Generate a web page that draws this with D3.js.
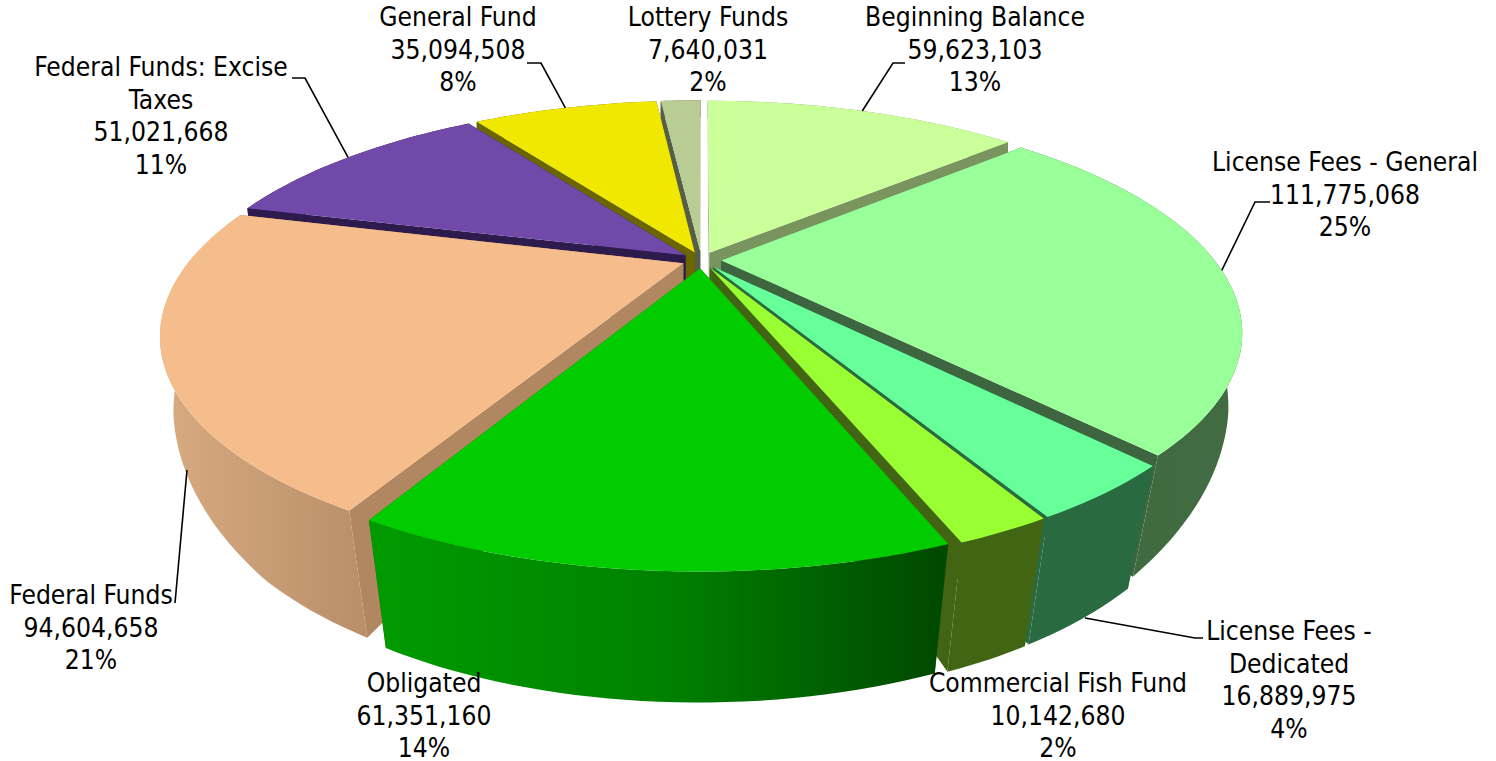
<!DOCTYPE html>
<html lang="en">
<head>
<meta charset="UTF-8">
<title>Revenue sources</title>
<script src="https://d3js.org/d3.v7.min.js"></script>
<style>
  html, body { margin: 0; padding: 0; background: #fff; overflow: hidden; }
  text { font-family: "DejaVu Sans Condensed", "DejaVu Sans", sans-serif; font-size: 26.2px; fill: #000; }
</style>
</head>
<body>
<div id="chart"></div>
<script>
// values, clockwise from 12 o'clock
const categories = ["Beginning Balance", "License Fees - General", "License Fees - Dedicated", "Commercial Fish Fund",
  "Obligated", "Federal Funds", "Federal Funds: Excise Taxes", "General Fund", "Lottery Funds"];
const amounts = [59623103, 111775068, 16889975, 10142680, 61351160, 94604658, 51021668, 35094508, 7640031];
const percents = ["13%", "25%", "4%", "2%", "14%", "21%", "11%", "8%", "2%"];

// label text broken the way the chart wraps it
const labelLines = [["Beginning Balance"], ["License Fees - General"], ["License Fees -", "Dedicated"], ["Commercial Fish Fund"],
  ["Obligated"], ["Federal Funds"], ["Federal Funds: Excise", "Taxes"], ["General Fund"], ["Lottery Funds"]];

const topColors = ["#caff99", "#99ff99", "#66ff99", "#99ff33", "#00cc00", "#f6bd8c", "#7149a9", "#f0e800", "#b9cc93"];
const cutColors = ["#7a9460", "#3d653f", "#2a6a40", "#426514", "#426514", "#b08761", "#2d1b4d", "#6a6600", "#555e47"];
// wall shading, [offset, colour], runs left to right across each wall
const wallStops = [
  [[0, "#7a9460"], [1, "#7a9460"]],
  [[0, "#3d6b3f"], [1, "#426b42"]],
  [[0, "#2a6a40"], [1, "#2a6a40"]],
  [[0, "#426514"], [1, "#426514"]],
  [[0, "#009a00"], [0.5, "#008200"], [1, "#004a00"]],
  [[0, "#d6a980"], [1, "#b98e68"]],
  [[0, "#2d1b4d"], [1, "#2d1b4d"]],
  [[0, "#6a6600"], [1, "#6a6600"]],
  [[0, "#555e47"], [1, "#555e47"]]
];

// label centre x, first baseline y
const labelPos = [[975, 26], [1345, 171], [1289, 640], [1058, 692], [424, 692], [91, 604], [161, 76], [458, 26], [708, 26]];
// leader points after the start; start is the rim at mid angle unless given in leaderStart
const leaders = [
  [[893, 63], [905, 63]],
  [[1255, 202], [1270, 202]],
  [[1195, 638], [1203, 638]],
  null,
  null,
  [[175, 603]],
  [[305, 78], [292, 78]],
  [[541, 63], [527, 63]],
  null
];
const leaderStart = [null, null, [1085, 618], null, null, [187, 470], null, null, null];

const W = 1496, H = 761;
const lineH = 32.7;

// perspective projection of the pie plane
const cx = 701.5, cy = 260, A = 493, B = 203, k = 0.31, explode = 0.04;
function project(u, v) {
  const w = 1 - k * v;
  return [cx + A * u / w, cy + B * v / w];
}
// bottom face: the drop and the pull toward the vanishing x both grow toward the viewer
const vanishX = 688;
const drop = d3.scaleLinear().domain([250, 330, 458, 522, 572]).range([60, 83, 122, 128, 131]);
const pull = d3.scaleLinear().domain([250, 330, 458, 522, 572]).range([0.985, 0.975, 0.946, 0.947, 0.95]);
function lower(p) {
  return [vanishX + (p[0] - vanishX) * pull(p[1]), p[1] + drop(p[1])];
}

const pie = d3.pie().sort(null).value(d => d)(amounts);

const slices = pie.map((p, i) => {
  const mid = (p.startAngle + p.endAngle) / 2;
  const ox = explode * Math.sin(mid), oy = -explode * Math.cos(mid);
  const rimAt = a => project(ox + Math.sin(a), oy - Math.cos(a));
  const steps = Math.max(8, Math.ceil((p.endAngle - p.startAngle) * 40));
  const rim = d3.range(steps + 1).map(j => rimAt(p.startAngle + (p.endAngle - p.startAngle) * j / steps));
  const apex = project(ox, oy);
  return { i, mid, depth: -Math.cos(mid), rim, apex, rimAt };
});

const svg = d3.select("#chart").append("svg").attr("width", W).attr("height", H);
const defs = svg.append("defs");
const line = d3.line();

slices.forEach(s => {
  const xs = d3.extent(s.rim.map(lower), d => d[0]);
  const grad = defs.append("linearGradient")
    .attr("id", "wall" + s.i)
    .attr("gradientUnits", "userSpaceOnUse")
    .attr("x1", xs[0]).attr("x2", xs[1]).attr("y1", 0).attr("y2", 0);
  wallStops[s.i].forEach(st => grad.append("stop").attr("offset", st[0]).attr("stop-color", st[1]));
});

// paint back slices first
const order = slices.slice().sort((a, b) => d3.ascending(a.depth, b.depth));
const groups = svg.selectAll("g.slice").data(order).enter().append("g").attr("class", "slice");

groups.each(function(s) {
  const g = d3.select(this);
  const first = s.rim[0], last = s.rim[s.rim.length - 1];
  // cut faces
  [first, last].forEach(p => {
    g.append("path")
      .attr("d", line([s.apex, p, lower(p), lower(s.apex)]) + "Z")
      .attr("fill", cutColors[s.i]);
  });
  // outer wall
  g.append("path")
    .attr("d", line(s.rim.concat(s.rim.map(lower).reverse())) + "Z")
    .attr("fill", `url(#wall${s.i})`);
  // top
  g.append("path")
    .attr("d", line([s.apex].concat(s.rim)) + "Z")
    .attr("fill", topColors[s.i]);
});

// leaders
slices.forEach(s => {
  if (!leaders[s.i]) return;
  const start = leaderStart[s.i] || s.rimAt(s.mid);
  svg.append("path")
    .attr("d", line([start].concat(leaders[s.i])))
    .attr("fill", "none")
    .attr("stroke", "#000")
    .attr("stroke-width", 1.6);
});

// labels
const fmt = d3.format(",");
categories.forEach((c, i) => {
  const lines = labelLines[i].concat([fmt(amounts[i]), percents[i]]);
  const t = svg.append("text")
    .attr("text-anchor", "middle")
    .attr("x", labelPos[i][0])
    .attr("y", labelPos[i][1]);
  t.selectAll("tspan").data(lines).enter().append("tspan")
    .attr("x", labelPos[i][0])
    .attr("dy", (d, j) => j ? lineH : 0)
    .text(d => d);
});
</script>
</body>
</html>
